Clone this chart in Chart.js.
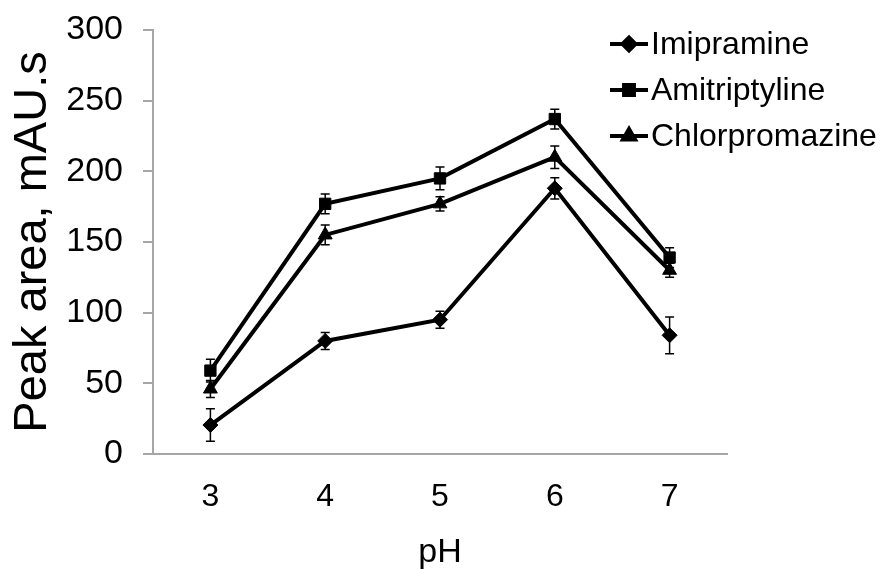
<!DOCTYPE html>
<html>
<head>
<meta charset="utf-8">
<script src="https://cdn.jsdelivr.net/npm/chart.js@4"></script>
<style>
  html, body { margin: 0; padding: 0; background: #fff; }
  #wrap { width: 883px; height: 569px; }
</style>
</head>
<body>
<div id="wrap"><canvas id="myChart" width="883" height="569"></canvas></div>
<script>
const ctx = document.getElementById('myChart')

const labels = ['3', '4', '5', '6', '7']

const imipramine = [20.5, 80, 95, 188, 84]
const imipramineErr = [11.5, 6, 6, 7.5, 13]

const amitriptyline = [59, 177, 195, 237, 139]
const amitriptylineErr = [8, 7, 8, 7, 7]

const chlorpromazine = [46, 155, 177, 210, 130]
const chlorpromazineErr = [6, 7, 5, 8, 5]

const errors = [imipramineErr, amitriptylineErr, chlorpromazineErr]

const font = 'Arial, "Liberation Sans", sans-serif'

// vertical error bars, drawn through the chart's own scales
const errorBars = {
  id: 'errorBars',
  afterDatasetsDraw(chart) {
    const c = chart.ctx
    const y = chart.scales.y
    c.save()
    c.strokeStyle = '#000'
    c.lineWidth = 1.5
    chart.data.datasets.forEach((ds, i) => {
      const meta = chart.getDatasetMeta(i)
      meta.data.forEach((pt, j) => {
        const v = ds.data[j]
        const e = errors[i][j]
        const top = y.getPixelForValue(v + e)
        const bot = y.getPixelForValue(v - e)
        c.beginPath()
        c.moveTo(pt.x, top); c.lineTo(pt.x, bot)
        c.moveTo(pt.x - 4.5, top); c.lineTo(pt.x + 4.5, top)
        c.moveTo(pt.x - 4.5, bot); c.lineTo(pt.x + 4.5, bot)
        c.stroke()
      })
    })
    c.restore()
  }
}

// legend in the top right corner, overlapping the plot like the original
const sideLegend = {
  id: 'sideLegend',
  afterDraw(chart) {
    const c = chart.ctx
    c.save()
    chart.data.datasets.forEach((ds, i) => {
      const yy = 44 + i * 46
      c.strokeStyle = '#000'
      c.lineWidth = 4
      c.beginPath()
      c.moveTo(610, yy); c.lineTo(648, yy)
      c.stroke()
      c.fillStyle = '#000'
      Chart.helpers.drawPoint(c, {pointStyle: ds.pointStyle, radius: ds.pointRadius - 1, borderWidth: 1}, 629, yy)
      c.fillStyle = '#000'
      c.font = '32px ' + font
      c.textBaseline = 'middle'
      c.textAlign = 'left'
      c.fillText(ds.label, 651, yy + 1)
    })
    c.restore()
  }
}

const data = {
  labels,
  datasets: [
    { label: 'Imipramine', data: imipramine, pointStyle: 'rectRot', pointRadius: 7.5 },
    { label: 'Amitriptyline', data: amitriptyline, pointStyle: 'rect', pointRadius: 8 },
    { label: 'Chlorpromazine', data: chlorpromazine, pointStyle: 'triangle', pointRadius: 8 }
  ].map(d => Object.assign(d, {
    borderColor: '#000',
    backgroundColor: '#000',
    borderWidth: 4,
    pointBorderWidth: 1,
    pointHoverRadius: d.pointRadius,
    tension: 0
  }))
}

const config = {
  type: 'line',
  data: data,
  options: {
    responsive: false,
    animation: false,
    layout: { padding: { top: 30, right: 156, left: 0, bottom: 0 } },
    plugins: { legend: { display: false }, tooltip: { enabled: false } },
    scales: {
      x: {
        offset: true,
        afterFit(s) { s.height = 115 },
        grid: { drawOnChartArea: false, drawTicks: false },
        border: { color: '#a6a6a6', width: 2 },
        ticks: { color: '#000', font: { family: font, size: 32 }, padding: 24 },
        title: { display: true, text: 'pH', color: '#000', font: { family: font, size: 34 }, padding: { top: 0, bottom: -4 } }
      },
      y: {
        min: 0,
        max: 300,
        afterFit(s) { s.width = 153; s.paddingTop = 0; s.paddingBottom = 0 },
        grid: { drawOnChartArea: false, tickLength: 10, color: '#a6a6a6', lineWidth: 2 },
        border: { color: '#a6a6a6', width: 2 },
        ticks: { stepSize: 50, color: '#000', font: { family: font, size: 34 }, padding: 20 },
        title: { display: true, text: 'Peak area, mAU.s', color: '#000', font: { family: font, size: 47 }, padding: { top: 5, bottom: 0 } }
      }
    }
  },
  plugins: [errorBars, sideLegend]
}

const myChart = new Chart(ctx, config)
</script>
</body>
</html>
